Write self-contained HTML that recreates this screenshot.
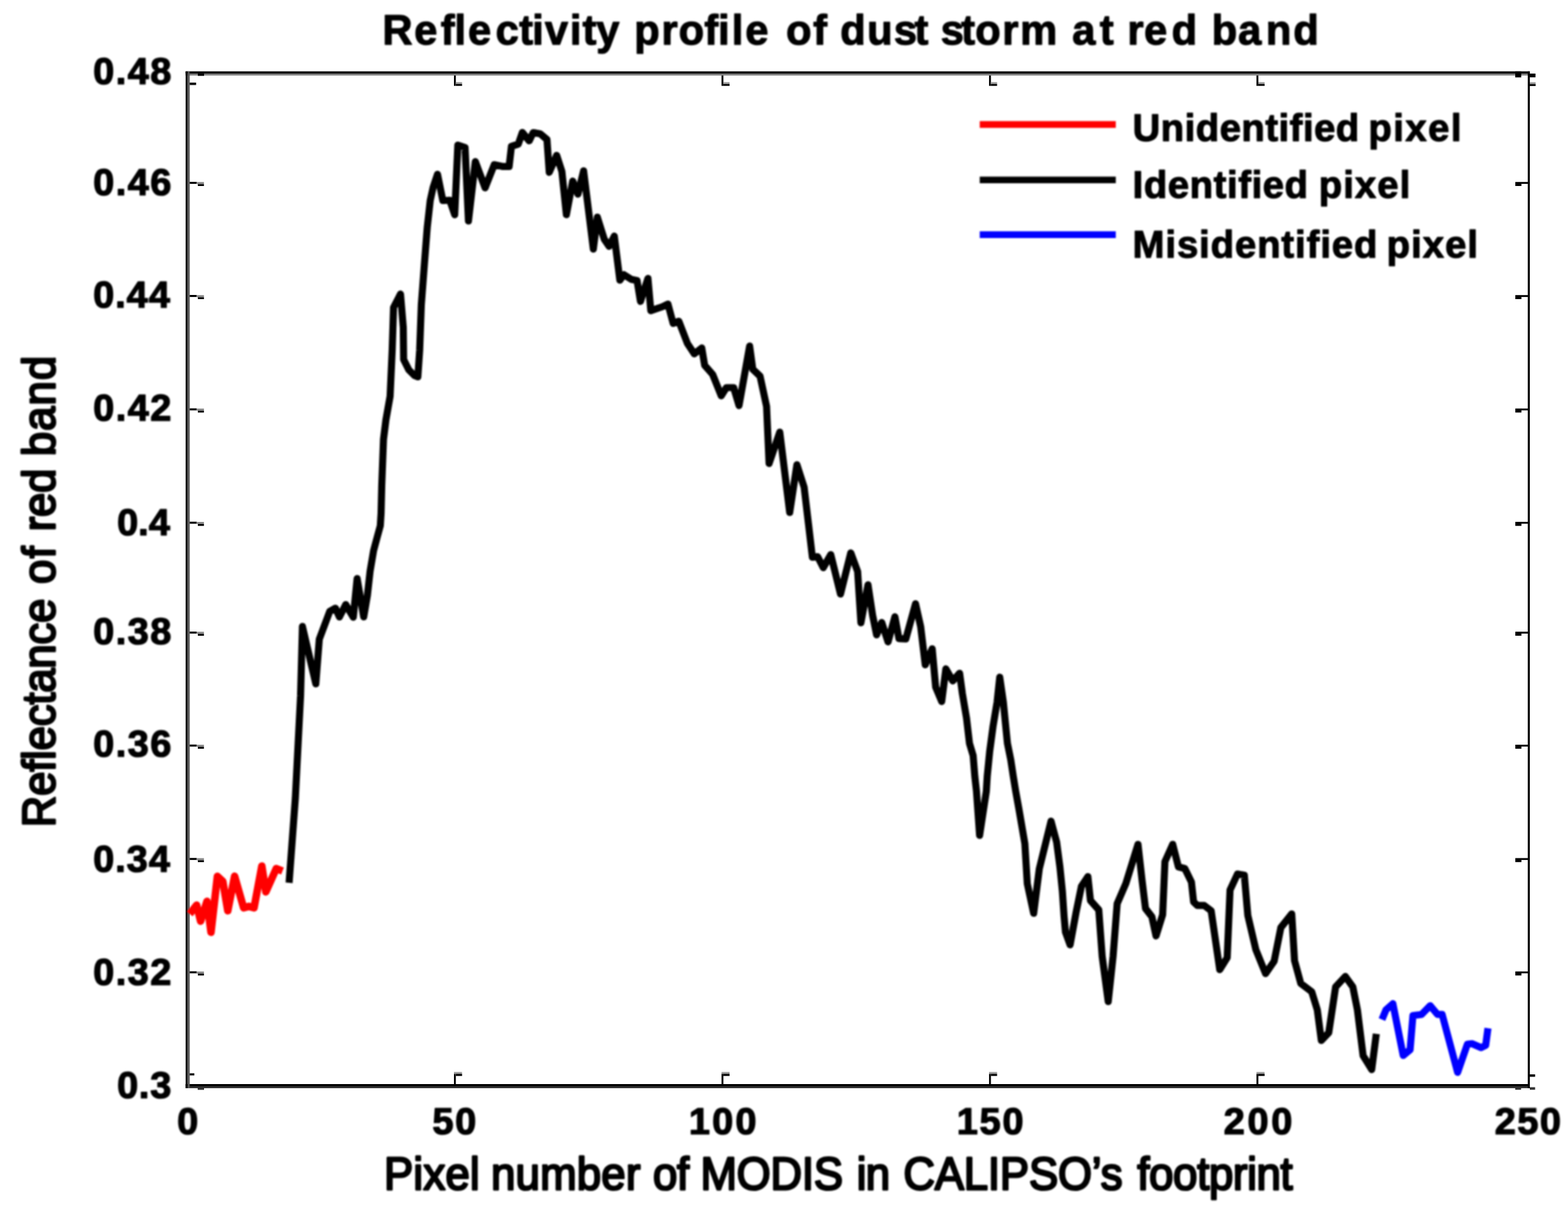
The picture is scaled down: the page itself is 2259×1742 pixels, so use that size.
<!DOCTYPE html>
<html lang="en"><head><meta charset="utf-8"><title>Reflectivity profile of dust storm at red band</title>
<style>html,body{margin:0;padding:0;background:#fff;}body{width:2259px;height:1742px;overflow:hidden;}svg{display:block;}#labels,#curves,#legend{filter:blur(0.9px);}text{font-family:"Liberation Sans",sans-serif;fill:#000;stroke:#000;stroke-linejoin:round;white-space:pre;}.tk{font-weight:bold;font-size:54.5px;stroke-width:1.7px;}.lg{font-weight:bold;font-size:55px;stroke-width:1.5px;}.ax{font-size:63px;stroke-width:3.0px;}.ti{font-weight:bold;font-size:60px;stroke-width:1.5px;}</style></head><body>
<svg width="2259" height="1742" viewBox="0 0 2259 1742">
<rect x="0.0" y="0.0" width="2259.0" height="1742.0" fill="#fff"/>
<g id="axes">
<rect x="267.5" y="102.8" width="1936.5" height="3.3" fill="#000"/>
<rect x="267.5" y="106.1" width="1936.5" height="2.6" fill="#777"/>
<rect x="267.5" y="1562.0" width="1936.5" height="3.0" fill="#000"/>
<rect x="267.5" y="1565.0" width="1936.5" height="2.9" fill="#2d2d2d"/>
<rect x="267.5" y="102.8" width="2.9" height="1465.1" fill="#000"/>
<rect x="270.4" y="102.8" width="2.9" height="1465.1" fill="#555"/>
<rect x="2201.0" y="102.8" width="3.0" height="1465.1" fill="#000"/>
<rect x="273.3" y="262.0" width="10.2" height="2.9" fill="#000"/>
<rect x="283.5" y="262.3" width="10.3" height="3.0" fill="#888"/>
<rect x="285.0" y="265.3" width="8.8" height="2.7" fill="#000"/>
<rect x="2191.5" y="262.2" width="9.5" height="2.7" fill="#000"/>
<rect x="2183.1" y="262.2" width="8.8" height="5.8" fill="#000"/>
<rect x="273.3" y="425.0" width="10.2" height="2.9" fill="#000"/>
<rect x="283.5" y="425.3" width="10.3" height="3.0" fill="#888"/>
<rect x="285.0" y="428.3" width="8.8" height="2.7" fill="#000"/>
<rect x="2191.5" y="425.2" width="9.5" height="2.7" fill="#000"/>
<rect x="2183.1" y="425.2" width="8.8" height="5.8" fill="#000"/>
<rect x="273.3" y="588.4" width="10.2" height="2.9" fill="#000"/>
<rect x="283.5" y="588.7" width="10.3" height="3.0" fill="#888"/>
<rect x="285.0" y="591.7" width="8.8" height="2.7" fill="#000"/>
<rect x="2191.5" y="588.6" width="9.5" height="2.7" fill="#000"/>
<rect x="2183.1" y="588.6" width="8.8" height="5.8" fill="#000"/>
<rect x="273.3" y="751.7" width="10.2" height="2.9" fill="#000"/>
<rect x="283.5" y="752.0" width="10.3" height="3.0" fill="#888"/>
<rect x="285.0" y="755.0" width="8.8" height="2.7" fill="#000"/>
<rect x="2191.5" y="751.9" width="9.5" height="2.7" fill="#000"/>
<rect x="2183.1" y="751.9" width="8.8" height="5.8" fill="#000"/>
<rect x="273.3" y="910.0" width="10.2" height="2.9" fill="#000"/>
<rect x="283.5" y="910.3" width="10.3" height="3.0" fill="#888"/>
<rect x="285.0" y="913.3" width="8.8" height="2.7" fill="#000"/>
<rect x="2191.5" y="910.2" width="9.5" height="2.7" fill="#000"/>
<rect x="2183.1" y="910.2" width="8.8" height="5.8" fill="#000"/>
<rect x="273.3" y="1072.8" width="10.2" height="2.9" fill="#000"/>
<rect x="283.5" y="1073.1" width="10.3" height="3.0" fill="#888"/>
<rect x="285.0" y="1076.1" width="8.8" height="2.7" fill="#000"/>
<rect x="2191.5" y="1073.0" width="9.5" height="2.7" fill="#000"/>
<rect x="2183.1" y="1073.0" width="8.8" height="5.8" fill="#000"/>
<rect x="273.3" y="1236.2" width="10.2" height="2.9" fill="#000"/>
<rect x="283.5" y="1236.5" width="10.3" height="3.0" fill="#888"/>
<rect x="285.0" y="1239.5" width="8.8" height="2.7" fill="#000"/>
<rect x="2191.5" y="1236.4" width="9.5" height="2.7" fill="#000"/>
<rect x="2183.1" y="1236.4" width="8.8" height="5.8" fill="#000"/>
<rect x="273.3" y="1399.5" width="10.2" height="2.9" fill="#000"/>
<rect x="283.5" y="1399.8" width="10.3" height="3.0" fill="#888"/>
<rect x="285.0" y="1402.8" width="8.8" height="2.7" fill="#000"/>
<rect x="2191.5" y="1399.7" width="9.5" height="2.7" fill="#000"/>
<rect x="2183.1" y="1399.7" width="8.8" height="5.8" fill="#000"/>
<rect x="654.0" y="1547.2" width="2.7" height="14.8" fill="#000"/>
<rect x="654.0" y="1544.6" width="11.6" height="2.7" fill="#999"/>
<rect x="656.8" y="1547.3" width="8.9" height="3.0" fill="#000"/>
<rect x="654.0" y="108.7" width="2.7" height="15.0" fill="#000"/>
<rect x="656.8" y="118.4" width="8.9" height="2.7" fill="#999"/>
<rect x="656.8" y="121.1" width="8.9" height="2.6" fill="#000"/>
<rect x="1039.5" y="1547.2" width="2.7" height="14.8" fill="#000"/>
<rect x="1039.5" y="1544.6" width="11.6" height="2.7" fill="#999"/>
<rect x="1042.1" y="1547.3" width="9.0" height="3.0" fill="#000"/>
<rect x="1039.5" y="108.7" width="2.7" height="15.0" fill="#000"/>
<rect x="1042.1" y="118.4" width="9.0" height="2.7" fill="#999"/>
<rect x="1042.1" y="121.1" width="9.0" height="2.6" fill="#000"/>
<rect x="1424.9" y="1547.2" width="2.7" height="14.8" fill="#000"/>
<rect x="1424.9" y="1544.6" width="11.6" height="2.7" fill="#999"/>
<rect x="1427.5" y="1547.3" width="9.0" height="3.0" fill="#000"/>
<rect x="1424.9" y="108.7" width="2.7" height="15.0" fill="#000"/>
<rect x="1427.5" y="118.4" width="9.0" height="2.7" fill="#999"/>
<rect x="1427.5" y="121.1" width="9.0" height="2.6" fill="#000"/>
<rect x="1810.2" y="1547.2" width="2.7" height="14.8" fill="#000"/>
<rect x="1810.2" y="1544.6" width="11.6" height="2.7" fill="#999"/>
<rect x="1812.9" y="1547.3" width="9.0" height="3.0" fill="#000"/>
<rect x="1810.2" y="108.7" width="2.7" height="15.0" fill="#000"/>
<rect x="1812.9" y="118.4" width="9.0" height="2.7" fill="#999"/>
<rect x="1812.9" y="121.1" width="9.0" height="2.6" fill="#000"/>
<rect x="273.3" y="119.0" width="9.2" height="3.5" fill="#000"/>
<rect x="285.0" y="106.1" width="9.0" height="3.2" fill="#000"/>
<rect x="273.3" y="1546.5" width="6.7" height="3.0" fill="#000"/>
<rect x="284.8" y="1566.4" width="9.2" height="3.9" fill="#333"/>
<rect x="2183.0" y="102.8" width="8.6" height="8.7" fill="#000"/>
<rect x="2204.0" y="106.0" width="8.2" height="5.4" fill="#000"/>
<rect x="2204.0" y="118.5" width="8.4" height="2.7" fill="#999"/>
<rect x="2204.0" y="121.2" width="8.4" height="2.7" fill="#000"/>
<rect x="2183.0" y="1566.5" width="8.4" height="3.7" fill="#333"/>
<rect x="2204.0" y="1566.5" width="7.6" height="3.7" fill="#333"/>
<rect x="2204.0" y="1548.0" width="7.6" height="3.5" fill="#000"/>
</g>
<g id="labels">
<text class="ax" transform="translate(553.3,1714.0) scale(1,1.07)" letter-spacing="0.29">Pixel</text>
<text class="ax" transform="translate(707.4,1714.0) scale(1,1.07)" letter-spacing="0.35">number</text>
<text class="ax" transform="translate(940.8,1714.0) scale(1,1.07)" letter-spacing="-0.64">of</text>
<text class="ax" transform="translate(1009.2,1714.0) scale(1,1.07)" letter-spacing="-0.32">MODIS</text>
<text class="ax" transform="translate(1234.3,1714.0) scale(1,1.07)" letter-spacing="-1.10">in</text>
<text class="ax" transform="translate(1301.4,1714.0) scale(1,1.07)" letter-spacing="-0.21">CALIPSO’s</text>
<text class="ax" transform="translate(1638.5,1714.0) scale(1,1.07)" letter-spacing="-0.48">footprint</text>
<text class="ax" transform="translate(78.7,1192.0) rotate(-90) scale(1,1.07)" letter-spacing="-0.31">Reflectance</text>
<text class="ax" transform="translate(78.7,841.4) rotate(-90) scale(1,1.07)" letter-spacing="1.86">of</text>
<text class="ax" transform="translate(78.7,765.5) rotate(-90) scale(1,1.07)" letter-spacing="-0.41">red</text>
<text class="ax" transform="translate(78.7,657.2) rotate(-90) scale(1,1.07)" letter-spacing="1.43">band</text>
<text class="tk" x="134.2" y="121.4" letter-spacing="2.15">0.48</text>
<text class="tk" x="134.2" y="281.0" letter-spacing="2.15">0.46</text>
<text class="tk" x="134.2" y="443.3" letter-spacing="1.48">0.44</text>
<text class="tk" x="134.2" y="606.2" letter-spacing="2.15">0.42</text>
<text class="tk" x="168.7" y="771.3" letter-spacing="0.12">0.4</text>
<text class="tk" x="134.2" y="928.3" letter-spacing="2.15">0.38</text>
<text class="tk" x="134.2" y="1090.4" letter-spacing="2.15">0.36</text>
<text class="tk" x="134.2" y="1255.8" letter-spacing="1.48">0.34</text>
<text class="tk" x="134.2" y="1418.7" letter-spacing="2.15">0.32</text>
<text class="tk" x="168.7" y="1581.5" letter-spacing="1.12">0.3</text>
<text class="tk" x="255.3" y="1634.3">0</text>
<text class="tk" x="623.0" y="1634.3" letter-spacing="2.49">50</text>
<text class="tk" x="992.6" y="1634.3" letter-spacing="3.19">100</text>
<text class="tk" x="1378.4" y="1634.3" letter-spacing="2.59">150</text>
<text class="tk" x="1763.0" y="1634.3" letter-spacing="3.94">200</text>
<text class="tk" x="2153.5" y="1634.3" letter-spacing="2.14">250</text>
<text class="lg" transform="translate(1631.8,202.6) scale(1,1.02)" letter-spacing="0.79">Unidentified</text>
<text class="lg" transform="translate(1971.6,202.6) scale(1,1.02)" letter-spacing="2.14">pixel</text>
<text class="lg" transform="translate(1631.8,284.7) scale(1,1.02)" letter-spacing="0.91">Identified</text>
<text class="lg" transform="translate(1900.1,284.7) scale(1,1.02)" letter-spacing="1.56">pixel</text>
<text class="lg" transform="translate(1631.8,370.5) scale(1,1.02)" letter-spacing="1.37">Misidentified</text>
<text class="lg" transform="translate(1997.8,370.5) scale(1,1.02)" letter-spacing="1.54">pixel</text>
<text class="ti" transform="translate(0,64.0) scale(1,1.02)" x="551.0 596.8 635.0 654.8 674.2 714.1 747.9 766.8 785.1 821.0 839.2 859.0 892.3 913.8 952.9 977.7 1014.8 1034.5 1054.3 1073.8 1107.2 1132.4 1171.5 1191.5 1210.6 1249.3 1287.7 1317.4 1337.4 1355.3 1384.7 1405.1 1443.9 1469.8 1523.2 1544.8 1584.4 1604.4 1624.3 1648.2 1688.1 1724.8 1745.7 1783.7 1823.7 1863.2" y="0">Reflectivity profile of dust storm at red band</text>
</g>
<g id="curves">
<polyline points="273.3,1316.8 283.3,1304.2 289.0,1327.3 298.2,1298.7 304.0,1343.3 313.2,1262.7 321.0,1270.0 328.2,1312.3 338.0,1262.5 351.0,1308.0 358.5,1306.0 366.0,1308.0 377.2,1247.9 383.0,1285.1 398.0,1251.5 407.0,1255.0" fill="none" stroke="#ff0000" stroke-width="10.8" stroke-linejoin="round" stroke-linecap="butt"/>
<polyline points="416.5,1272.0 425.5,1150.0 433.0,1003.0 435.7,902.7 455.0,985.3 460.0,921.0 475.0,881.0 483.3,876.3 489.0,889.0 498.1,871.1 509.0,889.3 514.5,833.7 524.0,888.8 529.3,858.0 533.2,823.0 538.2,793.5 543.0,775.5 547.9,757.5 549.0,740.0 550.0,699.0 552.5,633.0 556.0,605.0 562.0,571.0 565.0,505.0 567.0,443.0 577.0,423.7 581.0,472.0 581.5,518.0 589.0,533.0 597.0,541.0 602.0,543.0 604.6,505.0 607.0,439.0 612.0,373.0 615.5,328.0 619.8,289.0 624.0,270.0 630.3,251.0 638.0,289.0 648.0,288.5 655.1,309.3 659.6,209.0 670.0,212.5 674.9,318.5 684.8,232.9 698.9,270.6 712.0,237.3 723.6,239.8 733.5,239.8 736.8,210.9 746.7,207.6 752.5,190.8 762.4,202.9 768.2,191.1 778.1,192.7 788.0,201.0 791.3,248.3 802.0,223.8 809.5,247.0 816.0,309.4 825.1,260.9 832.6,279.7 840.8,246.1 854.8,358.9 860.6,312.9 870.5,344.6 877.5,354.9 885.0,340.2 893.0,403.7 898.8,395.7 909.5,402.5 917.8,404.2 922.7,434.3 933.5,401.2 937.6,447.6 954.1,442.0 962.3,438.0 969.8,466.0 978.0,462.8 990.4,495.0 1000.3,509.8 1011.0,501.4 1015.2,526.3 1026.7,539.5 1039.1,570.3 1046.5,558.5 1057.0,558.5 1064.7,584.4 1080.0,498.6 1084.5,532.0 1095.0,542.0 1104.4,585.6 1108.0,667.8 1123.4,622.7 1137.7,738.4 1148.1,669.6 1158.5,702.0 1164.7,754.3 1170.4,803.0 1177.9,802.0 1186.1,817.9 1196.9,799.1 1210.9,856.0 1225.7,796.6 1235.6,823.6 1240.3,897.3 1250.5,842.6 1257.1,886.3 1262.9,914.7 1270.3,896.9 1279.4,924.8 1289.3,888.6 1295.1,920.2 1305.0,920.6 1319.0,869.9 1326.4,902.8 1333.0,957.9 1343.0,934.8 1348.0,990.0 1356.7,1010.8 1362.7,963.7 1372.6,981.1 1382.5,970.0 1386.5,999.5 1392.5,1035.0 1396.7,1071.0 1402.0,1088.8 1404.4,1118.6 1406.8,1140.0 1411.3,1203.7 1421.0,1140.0 1422.3,1118.6 1425.8,1083.0 1430.6,1047.0 1436.5,1011.5 1440.3,975.7 1445.5,1011.4 1449.0,1047.0 1451.4,1071.0 1456.2,1094.8 1459.8,1118.6 1463.3,1140.0 1468.0,1166.0 1476.5,1215.6 1480.0,1273.3 1489.2,1316.0 1497.3,1251.9 1514.2,1183.2 1522.3,1213.3 1527.0,1249.0 1530.6,1284.8 1533.0,1320.5 1535.0,1343.0 1541.7,1361.4 1550.3,1314.6 1558.0,1277.0 1567.3,1263.1 1571.0,1297.5 1583.0,1311.0 1587.9,1378.0 1596.6,1443.2 1603.6,1378.0 1609.5,1302.0 1622.0,1273.0 1639.5,1216.5 1645.3,1268.0 1650.3,1309.0 1659.5,1320.8 1665.5,1348.6 1675.0,1318.0 1678.3,1241.5 1689.5,1216.5 1697.7,1249.0 1707.0,1251.5 1716.5,1271.0 1719.6,1299.5 1725.1,1304.7 1735.0,1304.7 1744.9,1312.2 1757.3,1397.2 1768.0,1379.8 1772.1,1282.4 1782.8,1259.3 1792.7,1261.0 1797.7,1318.8 1809.3,1368.3 1823.3,1402.8 1835.7,1384.8 1845.3,1336.5 1861.0,1316.8 1865.0,1384.0 1874.0,1417.0 1889.8,1429.0 1897.8,1455.0 1903.6,1499.2 1914.3,1488.0 1924.2,1422.0 1938.2,1406.9 1949.0,1422.0 1955.6,1455.0 1963.8,1521.0 1976.2,1541.2 1982.8,1489.7" fill="none" stroke="#000000" stroke-width="10.2" stroke-linejoin="round" stroke-linecap="butt"/>
<polyline points="1991.0,1469.0 1996.8,1455.0 2006.7,1446.2 2021.6,1520.7 2031.5,1512.5 2035.6,1463.3 2048.0,1461.7 2060.4,1449.0 2071.1,1461.7 2077.7,1461.7 2100.0,1545.2 2114.0,1504.6 2120.6,1503.8 2133.8,1509.5 2140.4,1506.2 2143.7,1481.5" fill="none" stroke="#0000ff" stroke-width="10.2" stroke-linejoin="round" stroke-linecap="butt"/>
</g>
<g id="legend">
<line x1="1411.5" y1="179.4" x2="1607.5" y2="179.4" stroke="#ff0000" stroke-width="9.6"/>
<line x1="1411.5" y1="259.2" x2="1607.5" y2="259.2" stroke="#000000" stroke-width="9.6"/>
<line x1="1411.5" y1="338.1" x2="1607.5" y2="338.1" stroke="#0000ff" stroke-width="9.6"/>
</g>
</svg></body></html>
